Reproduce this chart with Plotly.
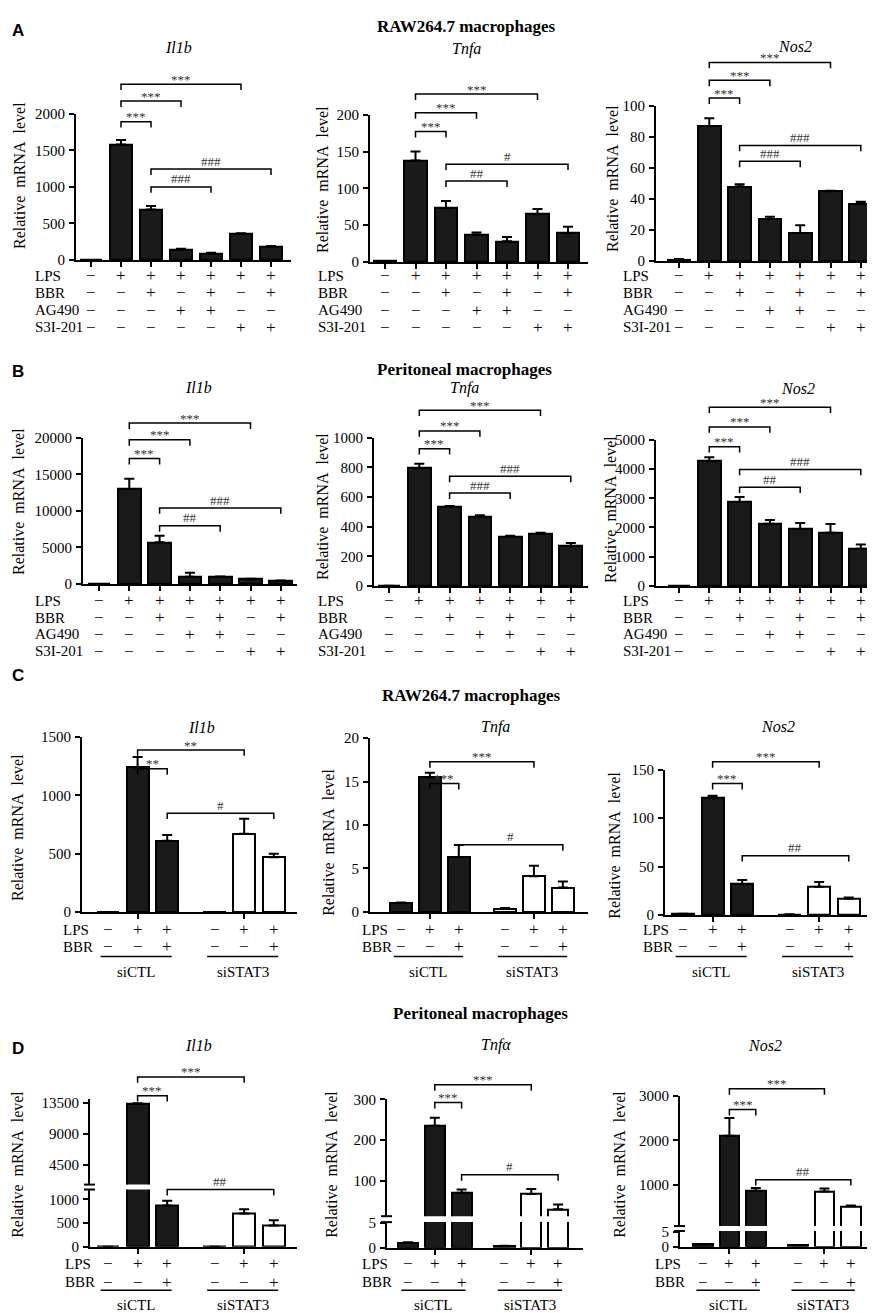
import plotly.graph_objects as go

W, H = 875, 1313
SERIF = "Times New Roman, Liberation Serif, serif"
SANS = "Arial, Liberation Sans, sans-serif"


def fx(p):
    return p / W


def fy(p):
    return 1 - p / H


# ------------------------------------------------------------------ data
pos_AB = [0, 1, 2, 3, 4, 5, 6]
pos_CD = [0, 1, 2, 3.6, 4.6, 5.6]

LPS_AB = ["−", "+", "+", "+", "+", "+", "+"]
BBR_AB = ["−", "−", "+", "−", "+", "−", "+"]
AG490_AB = ["−", "−", "−", "+", "+", "−", "−"]
S3I_AB = ["−", "−", "−", "−", "−", "+", "+"]
rows_AB = ["LPS", "BBR", "AG490", "S3I-201"]
LPS_CD = ["−", "+", "+", "−", "+", "+"]
BBR_CD = ["−", "−", "+", "−", "−", "+"]
rows_CD = ["LPS", "BBR"]
groups_CD = ["siCTL", "siSTAT3"]

A_il1b = [0, 1580, 690, 145, 90, 355, 185]
A_il1b_err = [0, 60, 50, 8, 8, 12, 8]
A_tnfa = [1, 138, 73, 37, 28, 65, 39]
A_tnfa_err = [0.3, 12, 10, 3, 6, 7, 9]
A_nos2 = [1, 87, 48, 27, 18, 45, 37]
A_nos2_err = [0.3, 5, 1.5, 1.5, 5, 0.3, 1.2]

B_il1b = [0, 13000, 5700, 1000, 950, 650, 450]
B_il1b_err = [0, 1400, 900, 550, 80, 60, 40]
B_tnfa = [2, 795, 535, 465, 335, 350, 270]
B_tnfa_err = [0, 30, 4, 12, 4, 10, 20]
B_nos2 = [0, 4270, 2870, 2130, 1950, 1820, 1270]
B_nos2_err = [0, 130, 170, 130, 200, 300, 150]

C_il1b = [0, 1240, 610, 0, 670, 470]
C_il1b_err = [0, 90, 50, 0, 130, 30]
C_tnfa = [1.0, 15.5, 6.3, 0.35, 4.1, 2.8]
C_tnfa_err = [0.1, 0.5, 1.4, 0.1, 1.2, 0.7]
C_nos2 = [1.0, 121, 32, 0.5, 29, 17]
C_nos2_err = [0.3, 2, 4, 0.2, 5, 1]

D_il1b = [0, 13300, 870, 0, 700, 450]
D_il1b_err = [0, 100, 100, 0, 90, 110]
D_tnfa = [1.0, 235, 70, 0.3, 67, 29]
D_tnfa_err = [0.1, 20, 8, 0.1, 12, 12]
D_nos2 = [0.8, 2100, 870, 0.5, 850, 520]
D_nos2_err = [0.1, 400, 60, 0.1, 70, 20]

sig_A_il1b = [(1, 5, "***"), (1, 3, "***"), (1, 2, "***"), (2, 6, "###"), (2, 4, "###")]
sig_A_tnfa = [(1, 5, "***"), (1, 3, "***"), (1, 2, "***"), (2, 6, "#"), (2, 4, "##")]
sig_A_nos2 = [(1, 5, "***"), (1, 3, "***"), (1, 2, "***"), (2, 6, "###"), (2, 4, "###")]
sig_B_il1b = [(1, 5, "***"), (1, 3, "***"), (1, 2, "***"), (2, 6, "###"), (2, 4, "##")]
sig_B_tnfa = [(1, 5, "***"), (1, 3, "***"), (1, 2, "***"), (2, 6, "###"), (2, 4, "###")]
sig_B_nos2 = [(1, 5, "***"), (1, 3, "***"), (1, 2, "***"), (2, 6, "###"), (2, 4, "##")]
sig_C_il1b = [(1, 4, "**"), (1, 2, "**"), (2, 5, "#")]
sig_C_tnfa = [(1, 4, "***"), (1, 2, "***"), (2, 5, "#")]
sig_C_nos2 = [(1, 4, "***"), (1, 2, "***"), (2, 5, "##")]
sig_D_il1b = [(1, 4, "***"), (1, 2, "***"), (2, 5, "##")]
sig_D_tnfa = [(1, 4, "***"), (1, 2, "***"), (2, 5, "#")]
sig_D_nos2 = [(1, 4, "***"), (1, 2, "***"), (2, 5, "##")]

# ------------------------------------------------------------------ layout spec (pixels)
BLACK = "#1a1a1a"
fill_AB = [BLACK] * 7
fill_CD = [BLACK] * 3 + ["white"] * 3
rowy_A = [263, 280, 298, 315]
rowy_B = [592, 609, 626, 643]
rowy_C = [925, 942]
rowy_D = [1263, 1282]

TICK_SIZE = 15
LABEL_SIZE = 15
SYM_SIZE = 17
YT_SIZE = 16


def rng(a, b, st):
    out, v = [], a
    while v <= b + 1e-9:
        out.append(v)
        v += st
    return out


specs = [
    dict(v=A_il1b, e=A_il1b_err, kind="AB", xs=68, xe=283, X0=83, s=30,
         segs=[dict(t=99, b=247, r=[0, 2000], tv=rng(0, 2000, 500))],
         sig=sig_A_il1b, lv=[69, 86, 107, 155, 173], rows=rowy_A, lab_x=25,
         gene="Il1b", gxy=(170, 32), yt=(11, 162)),
    dict(v=A_tnfa, e=A_tnfa_err, kind="AB", xs=362, xe=580, X0=377, s=30.5,
         segs=[dict(t=100, b=249, r=[0, 200], tv=rng(0, 200, 50))],
         sig=sig_A_tnfa, lv=[79, 98, 117, 150, 167], rows=rowy_A, lab_x=308,
         gene="Tnfa", gxy=(458, 33), yt=(315, 166)),
    dict(v=A_nos2, e=A_nos2_err, kind="AB", xs=648, xe=872, X0=671, s=30.3,
         segs=[dict(t=91, b=248, r=[0, 100], tv=rng(0, 100, 20))],
         sig=sig_A_nos2, lv=[47, 65, 83, 131, 147], rows=rowy_A, lab_x=613,
         gene="Nos2", gxy=(787, 31), yt=(605, 165)),
    dict(v=B_il1b, e=B_il1b_err, kind="AB", xs=75, xe=289, X0=91, s=30.3,
         segs=[dict(t=427, b=575, r=[0, 20000], tv=rng(0, 20000, 5000))],
         sig=sig_B_il1b, lv=[412, 429, 448, 498, 516], rows=rowy_B, lab_x=25,
         gene="Il1b", gxy=(190, 376), yt=(10, 492)),
    dict(v=B_tnfa, e=B_tnfa_err, kind="AB", xs=366, xe=580, X0=381, s=30.3,
         segs=[dict(t=427, b=577, r=[0, 1000], tv=rng(0, 1000, 200))],
         sig=sig_B_tnfa, lv=[399, 420, 438, 466, 483], rows=rowy_B, lab_x=308,
         gene="Tnfa", gxy=(457, 377), yt=(315, 497)),
    dict(v=B_nos2, e=B_nos2_err, kind="AB", xs=648, xe=872, X0=671, s=30.3,
         segs=[dict(t=429, b=577, r=[0, 5000], tv=rng(0, 5000, 1000))],
         sig=sig_B_nos2, lv=[396, 416, 436, 459, 477], rows=rowy_B, lab_x=613,
         gene="Nos2", gxy=(790, 377), yt=(603, 500)),
    dict(v=C_il1b, e=C_il1b_err, kind="CD", xs=74, xe=289, X0=100, s=29.6,
         segs=[dict(t=730, b=907, r=[0, 1500], tv=rng(0, 1500, 500))],
         sig=sig_C_il1b, lv=[743, 762, 807], rows=rowy_C, lab_x=53, ul=952, gl=968,
         gene="Il1b", gxy=(193, 720), yt=(10, 822)),
    dict(v=C_tnfa, e=C_tnfa_err, kind="CD", xs=362, xe=580, X0=393, s=28.9,
         segs=[dict(t=731, b=907, r=[0, 20], tv=rng(0, 20, 5))],
         sig=sig_C_tnfa, lv=[755, 777, 839], rows=rowy_C, lab_x=352, ul=952, gl=968,
         gene="Tnfa", gxy=(487, 720), yt=(321, 837)),
    dict(v=C_nos2, e=C_nos2_err, kind="CD", xs=657, xe=870, X0=675, s=29.6,
         segs=[dict(t=763, b=910, r=[0, 150], tv=rng(0, 150, 50))],
         sig=sig_C_nos2, lv=[755, 777, 850], rows=rowy_C, lab_x=633, ul=952, gl=968,
         gene="Nos2", gxy=(770, 719), yt=(607, 840)),
    dict(v=D_il1b, e=D_il1b_err, kind="CD", xs=82, xe=289, X0=100, s=29.6,
         segs=[dict(t=1188, b=1246, r=[0, 1208], tv=[0, 500, 1000]),
               dict(t=1096, b=1183, r=[1643, 14071], tv=[4500, 9000, 13500])],
         sig=sig_D_il1b, lv=[1074, 1093, 1188], rows=rowy_D, lab_x=55, ul=1290, gl=1305,
         gene="Il1b", gxy=(190, 1042), yt=(10, 1163)),
    dict(v=D_tnfa, e=D_tnfa_err, kind="CD", xs=379, xe=575, X0=400, s=26.8,
         segs=[dict(t=1221, b=1247, r=[0, 5.2], tv=[0, 5]),
               dict(t=1096, b=1215, r=[12, 302], tv=[100, 200, 300])],
         sig=sig_D_tnfa, lv=[1082, 1100, 1173], rows=rowy_D, lab_x=352, ul=1290, gl=1305,
         gene="Tnfα", gxy=(488, 1042), yt=(324, 1163)),
    dict(v=D_nos2, e=D_nos2_err, kind="CD", xs=672, xe=868, X0=695, s=26.4,
         segs=[dict(t=1230, b=1246, r=[0, 5.2], tv=[0, 5]),
               dict(t=1093, b=1225, r=[77, 3000], tv=[1000, 2000, 3000])],
         sig=sig_D_nos2, lv=[1086, 1107, 1178], rows=rowy_D, lab_x=645, ul=1290, gl=1305,
         gene="Nos2", gxy=(757, 1042), yt=(612, 1163)),
]

titles = [("RAW264.7 macrophages", 458, 11), ("Peritoneal macrophages", 457, 358),
          ("RAW264.7 macrophages", 463, 688), ("Peritoneal macrophages", 472, 1010)]
letters = [("A", 10, 15), ("B", 10, 360), ("C", 10, 668), ("D", 10, 1045)]

# ------------------------------------------------------------------ build
fig = go.Figure()
layout = dict(width=W, height=H, margin=dict(l=0, r=0, t=0, b=0),
              paper_bgcolor="white", plot_bgcolor="white", showlegend=False,
              bargap=0, font=dict(family=SERIF, color="black"))
annotations = []
shapes = []


def ann(text, x, y, xref="paper", size=15, family=SERIF, xanchor="center",
        yanchor="middle", color="black", **kw):
    annotations.append(dict(text=text, x=x, y=y, xref=xref, yref="paper",
                            showarrow=False, xanchor=xanchor, yanchor=yanchor,
                            font=dict(family=family, size=size, color=color), **kw))


nx = ny = 0
for sp in specs:
    nx += 1
    xid = "x" if nx == 1 else f"x{nx}"
    xkey = "xaxis" if nx == 1 else f"xaxis{nx}"
    if sp["kind"] == "AB":
        pos, fills, tickx = pos_AB, fill_AB, pos_AB
        symrows = [LPS_AB, BBR_AB, AG490_AB, S3I_AB]
        rlabels = rows_AB
    else:
        pos, fills, tickx = pos_CD, fill_CD, [pos_CD[1], pos_CD[4]]
        symrows = [LPS_CD, BBR_CD]
        rlabels = rows_CD
    xr = [(sp["xs"] - sp["X0"]) / sp["s"], (sp["xe"] - sp["X0"]) / sp["s"]]
    yids = []
    for seg in sp["segs"]:
        ny += 1
        yid = "y" if ny == 1 else f"y{ny}"
        ykey = "yaxis" if ny == 1 else f"yaxis{ny}"
        layout[ykey] = dict(domain=[fy(seg["b"]), fy(seg["t"])], range=seg["r"],
                            anchor=xid, tickmode="array", tickvals=seg["tv"],
                            ticktext=[f"{v:g}" for v in seg["tv"]],
                            ticks="outside", ticklen=5, tickwidth=2, tickcolor="black",
                            showline=True, linewidth=2, linecolor="black",
                            showgrid=False, zeroline=False, ticklabelstandoff=1,
                            tickfont=dict(family=SERIF, size=TICK_SIZE, color="black"))
        yids.append(yid)
        n = len(sp["v"])
        fig.add_trace(go.Bar(
            x=pos, y=sp["v"], width=0.75, xaxis=xid, yaxis=yid,
            marker=dict(color=fills, line=dict(color="black", width=2)),
            error_y=dict(type="data", symmetric=False, array=sp["e"],
                         arrayminus=[0] * n, color="black", thickness=2, width=5),
            hoverinfo="skip"))
    layout[xkey] = dict(domain=[fx(sp["xs"]), fx(sp["xe"])], range=xr, anchor=yids[0],
                        tickmode="array", tickvals=tickx, ticks="outside", ticklen=5,
                        tickwidth=2, tickcolor="black", showticklabels=False,
                        showline=True, linewidth=2, linecolor="black",
                        showgrid=False, zeroline=False)

    # broken axis marks
    if len(sp["segs"]) > 1:
        for yy in (sp["segs"][0]["t"], sp["segs"][1]["b"]):
            shapes.append(dict(type="line", xref="paper", yref="paper",
                               x0=fx(sp["xs"] - 6), x1=fx(sp["xs"] + 5),
                               y0=fy(yy), y1=fy(yy), line=dict(color="black", width=2)))

    # significance brackets
    for (i, j, lab), L in zip(sp["sig"], sp["lv"]):
        y0, y1 = fy(L), fy(L + 6)
        shapes.append(dict(type="path", xref=xid, yref="paper",
                           path=f"M {pos[i]},{y1} L {pos[i]},{y0} L {pos[j]},{y0} L {pos[j]},{y1}",
                           line=dict(color="black", width=1.5)))
        off = 5 if "*" in lab else 8
        ann(lab, (pos[i] + pos[j]) / 2, fy(L - off), xref=xid, size=13, color="#333")

    # treatment table
    for lab, syms, yy in zip(rlabels, symrows, sp["rows"]):
        ann(lab, fx(sp["lab_x"]), fy(yy), xanchor="left", size=LABEL_SIZE)
        for p, sym in zip(pos, syms):
            ann(sym, p, fy(yy), xref=xid, size=SYM_SIZE)

    # group underline + labels
    if sp["kind"] == "CD":
        for g, (a, b) in zip(groups_CD, [(0, 2), (3, 5)]):
            xa, xb = pos[a] - 0.25, pos[b] + 0.15
            shapes.append(dict(type="line", xref=xid, yref="paper", x0=xa, x1=xb,
                               y0=fy(sp["ul"]), y1=fy(sp["ul"]),
                               line=dict(color="black", width=1.5)))
            ann(g, (xa + xb) / 2, fy(sp["gl"]), xref=xid, size=LABEL_SIZE)

    # gene title and y title
    ann(f"<i>{sp['gene']}</i>", fx(sp["gxy"][0]), fy(sp["gxy"][1]), size=16)
    ann("Relative\u00a0 mRNA\u00a0 level", fx(sp["yt"][0]), fy(sp["yt"][1]), size=YT_SIZE,
        textangle=-90)

for t, x, y in titles:
    ann(f"<b>{t}</b>", fx(x), fy(y), size=17)
for t, x, y in letters:
    ann(f"<b>{t}</b>", fx(x), fy(y), size=17, family=SANS)

layout["annotations"] = annotations
layout["shapes"] = shapes
fig.update_layout(**layout)
fig.write_html("out.html")
